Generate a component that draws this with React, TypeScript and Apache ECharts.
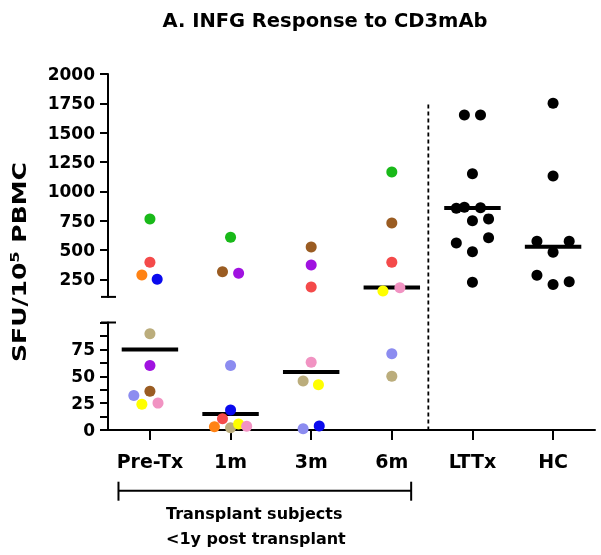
import React, { useEffect, useRef } from 'react';
import * as echarts from 'echarts';

// ---------- data ----------
const categories = ['Pre-Tx', '1m', '3m', '6m', 'LTTx', 'HC'];
const subjectNames = ['Subject 1', 'Subject 2', 'Subject 3', 'Subject 4', 'Subject 5', 'Subject 6', 'Subject 7', 'Subject 8', 'Subject 9', 'Subject 10'];
// values per subject (same order as subjectNames)
const preTx = [764, 395, 287, 250, 89.5, 60, 36, 32, 24, 25];
const month1 = [608, 10.4, 3, 18.7, 2.1, 301, 315, 60, 5.5, 3.4];
const month3 = [null, 184, null, 3.7, 45.5, 372, 525, 1.2, 42, 63];
const month6 = [1165, 395, null, null, 50, null, 730, 71, 150, 178];
// horizontal spread of dots within a column (in category units)
const preTxSpread = [0, 0, -0.1, 0.09, 0, 0, 0, -0.2, -0.1, 0.1];
const month1Spread = [0, -0.1, -0.2, 0, 0, 0.1, -0.1, 0, 0.1, 0.2];
const month3Spread = [0, 0, 0, 0.1, -0.1, 0, 0, -0.1, 0.09, 0];
const month6Spread = [0, 0, 0, 0, 0, 0, 0, 0, -0.11, 0.1];
const lttx = [1650, 1650, 1150, 855, 865, 860, 750, 765, 605, 560, 485, 225];
const lttxSpread = [-0.1, 0.1, 0, -0.2, -0.1, 0.1, 0, 0.2, 0.2, -0.2, 0, 0];
const hc = [1750, 1130, 575, 575, 480, 285, 205, 230];
const hcSpread = [0, 0, -0.2, 0.2, 0, -0.2, 0, 0.2];
const medians = [75, 15, 54, 180, 858, 528];
const upperTicks = [250, 500, 750, 1000, 1250, 1500, 1750, 2000];
const lowerTickMarks = [0, 12.5, 25, 37.5, 50, 62.5, 75, 87.5, 100];
const lowerTickLabels = [0, 25, 50, 75];
const xTicks = [0, 1, 2, 3, 4, 5];
const BREAK = 100;

// ---------- style ----------
const palette = ['#19b919', '#f44a4a', '#ff8214', '#0a0aee', '#bbad7c', '#a012e0', '#9a5c22', '#8c8cf0', '#ffff00', '#f193c2'];
const FONT = 'DejaVu Sans';

export default function App() {
  const ref = useRef<HTMLDivElement>(null);
  useEffect(() => {
    if (!ref.current) return;
    const chart = echarts.init(ref.current, undefined, { renderer: 'svg' });
    const timepoints = [preTx, month1, month3, month6];
    const spreads = [preTxSpread, month1Spread, month3Spread, month6Spread];
    const series: any[] = [];
    const dot = 11;

    const medianRender = (params: any, api: any) => {
      const x = api.value(0);
      const y = api.value(1);
      const p1 = api.coord([x - 0.35, y]);
      const p2 = api.coord([x + 0.35, y]);
      return {
        type: 'line',
        shape: { x1: p1[0], y1: p1[1], x2: p2[0], y2: p2[1] },
        style: { stroke: '#000', lineWidth: 4 },
      };
    };
    series.push({
      type: 'custom', xAxisIndex: 0, yAxisIndex: 0, z: 1,
      data: medians.map((m, i) => [i, m]).filter((d) => d[1] >= BREAK),
      renderItem: medianRender,
    });
    series.push({
      type: 'custom', xAxisIndex: 1, yAxisIndex: 1, z: 1,
      data: medians.map((m, i) => [i, m]).filter((d) => d[1] < BREAK),
      renderItem: medianRender,
    });

    subjectNames.forEach((name, s) => {
      const up: number[][] = [];
      const low: number[][] = [];
      timepoints.forEach((arr, t) => {
        const v = arr[s];
        if (v == null) return;
        const pt = [t + spreads[t][s], v];
        if (v >= BREAK) up.push(pt); else low.push(pt);
      });
      const common = { type: 'scatter', name, symbolSize: dot, z: 3, itemStyle: { color: palette[s], opacity: 1 } };
      series.push({ ...common, xAxisIndex: 0, yAxisIndex: 0, data: up });
      series.push({ ...common, xAxisIndex: 1, yAxisIndex: 1, data: low });
    });
    series.push({
      type: 'scatter', name: 'LTTx', symbolSize: dot, z: 3, xAxisIndex: 0, yAxisIndex: 0,
      itemStyle: { color: '#000', opacity: 1 }, data: lttx.map((v, i) => [4 + lttxSpread[i], v]),
    });
    series.push({
      type: 'scatter', name: 'HC', symbolSize: dot, z: 3, xAxisIndex: 0, yAxisIndex: 0,
      itemStyle: { color: '#000', opacity: 1 }, data: hc.map((v, i) => [5 + hcSpread[i], v]),
    });

    const axisLine = { show: true, onZero: false, lineStyle: { color: '#000', width: 2 } };
    const labelStyle = { color: '#000', fontFamily: FONT, fontWeight: 'bold' as const, fontSize: 17 };
    const gridLeft = 108;
    const gridWidth = 487;

    chart.setOption({
      animation: false,
      grid: [
        { left: gridLeft, width: gridWidth, top: 74, height: 222.9 },
        { left: gridLeft, width: gridWidth, top: 322.5, height: 107.5 },
      ],
      xAxis: [
        { type: 'value', gridIndex: 0, min: -0.52, max: 5.52, show: false },
        {
          type: 'value', gridIndex: 1, min: -0.52, max: 5.52,
          axisLine, splitLine: { show: false },
          axisTick: { show: true, customValues: xTicks, length: 10, lineStyle: { color: '#000', width: 2 } },
          axisLabel: { ...labelStyle, fontSize: 19, margin: 21, customValues: xTicks, formatter: (v: number) => categories[Math.round(v)] },
        },
      ],
      yAxis: [
        {
          type: 'value', gridIndex: 0, min: BREAK, max: 2000,
          axisLine, splitLine: { show: false },
          axisTick: { show: true, customValues: upperTicks, length: 8, lineStyle: { color: '#000', width: 2 } },
          axisLabel: { ...labelStyle, margin: 13, customValues: upperTicks, formatter: (v: number) => String(v) },
        },
        {
          type: 'value', gridIndex: 1, min: 0, max: BREAK,
          axisLine, splitLine: { show: false },
          axisTick: { show: true, customValues: lowerTickMarks, length: 8, lineStyle: { color: '#000', width: 2 } },
          axisLabel: { ...labelStyle, margin: 13, customValues: lowerTickLabels, formatter: (v: number) => String(v) },
        },
      ],
      series,
    });

    const pUpBreak = chart.convertToPixel({ xAxisIndex: 0, yAxisIndex: 0 } as any, [-0.52, BREAK]) as number[];
    const pLowBreak = chart.convertToPixel({ xAxisIndex: 1, yAxisIndex: 1 } as any, [-0.52, BREAK]) as number[];
    const dashTop = chart.convertToPixel({ xAxisIndex: 0, yAxisIndex: 0 } as any, [3.453, 1740]) as number[];
    const dashBottom = chart.convertToPixel({ xAxisIndex: 1, yAxisIndex: 1 } as any, [3.453, 0]) as number[];
    const brL = chart.convertToPixel({ xAxisIndex: 1, yAxisIndex: 1 } as any, [-0.39, 0]) as number[];
    const brR = chart.convertToPixel({ xAxisIndex: 1, yAxisIndex: 1 } as any, [3.24, 0]) as number[];
    const brY = 490.7;
    const blk = { stroke: '#000', lineWidth: 2 };

    chart.setOption({
      graphic: [
        { type: 'line', shape: { x1: pUpBreak[0] - 7, y1: pUpBreak[1], x2: pUpBreak[0] + 8, y2: pUpBreak[1] }, style: blk },
        { type: 'line', shape: { x1: pLowBreak[0] - 7, y1: pLowBreak[1], x2: pLowBreak[0] + 8, y2: pLowBreak[1] }, style: blk },
        { type: 'line', shape: { x1: dashTop[0], y1: dashTop[1], x2: dashBottom[0], y2: dashBottom[1] }, style: { stroke: '#000', lineWidth: 1.8, lineDash: [4, 3] } },
        { type: 'line', shape: { x1: brL[0], y1: brY, x2: brR[0], y2: brY }, style: blk },
        { type: 'line', shape: { x1: brL[0], y1: brY - 9, x2: brL[0], y2: brY + 10 }, style: blk },
        { type: 'line', shape: { x1: brR[0], y1: brY - 9, x2: brR[0], y2: brY + 10 }, style: blk },
        {
          type: 'text', left: 166, top: 501,
          style: { text: 'Transplant subjects\n<1y post transplant', fontFamily: FONT, fontWeight: 'bold', fontSize: 16, lineHeight: 25, fill: '#000' },
        },
        {
          type: 'text', x: 325, y: 20,
          style: { text: 'A. INFG Response to CD3mAb', fontFamily: FONT, fontWeight: 'bold', fontSize: 19.5, fill: '#000', align: 'center', verticalAlign: 'middle' },
        },
        {
          type: 'text', x: 19, y: 262, rotation: Math.PI / 2, scaleX: 1.25,
          style: {
            text: '{a|SFU/10}{s|5}{a| PBMC}', align: 'center', verticalAlign: 'middle', fill: '#000',
            rich: {
              a: { fontFamily: FONT, fontWeight: 'bold', fontSize: 20, fill: '#000' },
              s: { fontFamily: FONT, fontWeight: 'bold', fontSize: 13, fill: '#000', padding: [0, 0, 10, 0] },
            },
          },
        },
      ],
    });

    return () => chart.dispose();
  }, []);
  return <div ref={ref} style={{ position: 'fixed', left: 0, top: 0, width: 601, height: 555 }} />;
}
